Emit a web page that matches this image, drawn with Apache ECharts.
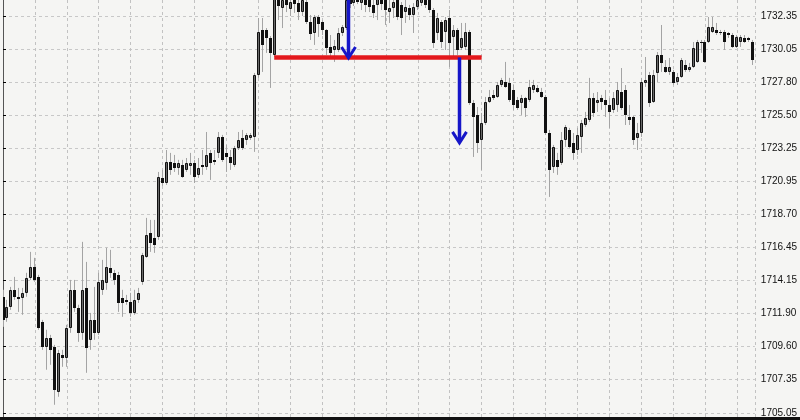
<!DOCTYPE html>
<html><head><meta charset="utf-8">
<script src="https://cdn.jsdelivr.net/npm/echarts@6/dist/echarts.min.js"></script>
<style>html,body{margin:0;padding:0;background:#f5f5f3}#c{width:800px;height:420px}</style>
</head><body><div id="c"></div>
<script>
const opens = [
1713.03,1711.58,1712.34,1713.51,1713.03,1712.96,1713.30,1714.33,1715.09,1714.40,
1711.31,1709.59,1710.21,1709.59,1706.49,1709.04,1708.83,1710.89,1713.51,1712.27,
1710.55,1713.64,1710.07,1711.44,1710.55,1713.51,1713.99,1715.02,1714.68,1714.54,
1712.96,1712.68,1712.68,1711.92,1712.82,1714.06,1715.78,1717.43,1717.08,1717.15,
1721.21,1720.86,1722.31,1722.24,1721.90,1722.10,1721.76,1722.03,1722.24,1721.42,
1721.97,1721.97,1722.93,1722.45,1722.93,1724.03,1722.93,1722.65,1722.10,1723.27,
1723.96,1723.82,1723.96,1724.03,1728.29,1731.39,1731.39,1730.84,1729.67,1733.73,
1732.90,1733.66,1732.83,1733.59,1733.24,1732.62,1733.31,1731.94,1731.18,1732.28,
1731.94,1731.39,1730.22,1730.01,1730.01,1731.18,1731.52,1733.66,1733.24,1733.79,
1733.24,1733.59,1733.45,1733.11,1733.11,1733.66,1733.45,1732.62,1732.90,1733.45,
1733.11,1732.62,1732.90,1732.42,1732.97,1733.24,1733.73,1733.45,1732.76,1731.18,
1731.94,1731.25,1732.21,1730.91,1731.39,1730.15,1730.22,1731.25,1726.37,1725.54,
1723.82,1724.99,1726.44,1726.92,1726.78,1727.60,1727.81,1727.74,1727.26,1726.57,
1726.37,1726.71,1726.57,1727.26,1727.40,1727.12,1726.78,1724.30,1721.97,1722.45,
1722.24,1723.82,1724.51,1723.62,1723.13,1724.03,1724.85,1725.20,1726.71,1726.37,
1726.71,1726.57,1726.23,1725.89,1726.23,1727.12,1727.26,1725.40,1725.40,1723.96,
1724.30,1727.74,1728.29,1726.44,1728.43,1729.67,1728.84,1728.50,1728.50,1727.81,
1728.15,1728.98,1728.64,1728.84,1729.19,1730.49,1730.56,1730.56,1731.25,1731.39,
1731.25,1731.25,1731.04,1731.04,1730.22,1730.56,1730.84,1730.70,1730.56];
const closes = [
1711.44,1712.34,1713.51,1713.03,1712.89,1713.30,1714.33,1715.09,1714.19,1710.89,
1709.59,1710.21,1709.38,1706.63,1709.17,1708.83,1710.89,1713.51,1712.27,1710.55,
1713.51,1709.52,1711.44,1710.55,1714.06,1714.19,1715.09,1714.68,1714.19,1712.61,
1712.61,1712.82,1711.92,1712.82,1713.30,1715.91,1717.29,1716.74,1716.60,1721.28,
1720.86,1722.31,1721.76,1721.90,1722.24,1721.28,1722.24,1722.24,1721.28,1721.90,
1722.10,1722.79,1722.24,1722.31,1724.03,1722.45,1722.65,1722.24,1723.27,1723.82,
1723.27,1724.17,1724.17,1728.29,1731.25,1730.36,1730.84,1729.81,1733.59,1733.04,
1733.45,1733.11,1733.31,1733.17,1732.62,1733.45,1731.94,1731.11,1732.28,1731.80,
1731.39,1730.15,1729.81,1730.29,1731.18,1731.59,1733.45,1733.17,1733.59,1733.31,
1733.73,1733.11,1732.97,1732.56,1733.59,1733.17,1732.76,1732.90,1733.31,1732.28,
1732.21,1732.97,1732.42,1732.97,1733.45,1733.59,1733.11,1732.76,1730.49,1732.21,
1730.56,1732.07,1730.49,1731.39,1730.01,1730.84,1731.25,1726.37,1725.40,1723.62,
1724.99,1726.44,1726.78,1726.71,1727.60,1727.95,1727.47,1726.57,1726.23,1726.02,
1726.71,1726.02,1727.47,1727.60,1727.12,1726.78,1724.30,1721.76,1723.34,1721.97,
1723.82,1724.72,1723.34,1722.93,1724.17,1724.99,1725.34,1726.71,1725.68,1726.57,
1726.44,1726.23,1725.75,1726.71,1727.26,1726.02,1725.54,1725.20,1723.82,1724.30,
1727.81,1727.95,1726.37,1728.29,1729.67,1729.12,1728.50,1728.84,1727.74,1728.15,
1729.32,1728.64,1728.84,1730.15,1730.56,1730.56,1729.19,1731.59,1731.59,1731.18,
1731.18,1730.56,1731.18,1730.22,1730.91,1730.91,1730.56,1730.84,1729.32];
const highs = [
1713.51,1712.82,1713.71,1714.40,1713.64,1713.64,1714.68,1716.12,1715.71,1714.54,
1711.44,1710.76,1710.41,1709.72,1709.38,1709.38,1711.10,1714.19,1714.19,1712.48,
1716.81,1715.43,1711.92,1713.71,1714.68,1715.57,1716.40,1716.26,1714.88,1714.74,
1713.51,1713.16,1713.30,1713.51,1713.64,1716.05,1718.46,1718.32,1718.32,1721.62,
1721.76,1723.13,1722.93,1722.79,1722.45,1722.45,1722.58,1722.93,1722.45,1722.58,
1723.13,1724.37,1723.13,1723.13,1724.37,1724.17,1723.48,1723.13,1723.41,1724.37,
1724.51,1724.30,1724.30,1728.43,1732.21,1732.21,1731.52,1730.97,1733.79,1734.14,
1733.86,1734.00,1733.79,1733.93,1733.66,1733.73,1733.59,1732.42,1732.42,1732.42,
1732.07,1731.45,1731.04,1730.70,1731.52,1731.73,1733.73,1733.86,1733.79,1734.14,
1734.00,1733.86,1733.73,1733.45,1733.73,1733.86,1733.73,1733.45,1733.59,1733.66,
1733.31,1733.45,1733.11,1733.24,1733.66,1733.79,1734.00,1733.66,1732.90,1732.56,
1732.07,1732.28,1732.76,1731.73,1731.52,1731.87,1731.87,1731.39,1726.57,1726.09,
1725.68,1726.78,1727.26,1727.26,1727.81,1728.09,1729.19,1728.09,1727.60,1726.78,
1726.92,1726.78,1727.95,1727.95,1727.60,1727.40,1726.92,1724.51,1723.48,1722.93,
1724.37,1724.85,1724.65,1724.30,1724.65,1725.20,1725.75,1728.09,1727.05,1727.12,
1726.92,1727.26,1726.71,1727.12,1727.81,1728.77,1727.60,1726.23,1725.47,1724.99,
1728.09,1729.53,1728.50,1728.64,1729.87,1731.73,1729.32,1729.46,1728.64,1728.43,
1729.46,1729.32,1729.12,1730.56,1730.70,1730.70,1730.70,1732.28,1732.28,1731.87,
1731.39,1731.39,1731.25,1731.18,1731.04,1731.04,1731.04,1730.91,1730.70];
const lows = [
1710.96,1711.31,1712.13,1712.82,1711.99,1711.79,1713.03,1714.19,1714.06,1710.76,
1709.38,1708.01,1708.35,1705.60,1706.15,1708.21,1708.21,1710.55,1711.99,1709.93,
1710.07,1707.80,1709.38,1710.07,1710.41,1713.16,1713.51,1714.33,1713.85,1711.99,
1711.65,1712.48,1711.65,1711.79,1712.61,1713.85,1715.71,1716.12,1716.05,1716.95,
1720.66,1720.73,1721.42,1721.62,1721.42,1721.21,1721.62,1721.42,1720.86,1721.21,
1721.42,1721.76,1721.07,1722.10,1722.58,1722.31,1721.62,1721.76,1721.97,1723.13,
1723.13,1723.48,1723.82,1723.00,1728.09,1728.50,1729.81,1727.40,1729.53,1732.07,
1731.52,1732.62,1732.35,1732.56,1732.07,1732.35,1731.80,1730.70,1730.36,1730.91,
1731.04,1729.67,1729.60,1729.19,1729.87,1730.97,1731.39,1732.90,1733.04,1733.17,
1732.76,1732.62,1732.62,1732.21,1732.07,1732.76,1731.73,1731.87,1732.21,1732.07,
1731.04,1731.87,1732.07,1731.18,1732.76,1733.04,1732.90,1732.56,1730.15,1730.70,
1730.15,1730.01,1728.84,1729.53,1729.67,1730.01,1730.01,1726.23,1722.65,1722.93,
1721.76,1724.85,1726.37,1726.57,1726.71,1727.47,1727.40,1726.44,1725.89,1725.89,
1725.54,1725.40,1726.44,1727.05,1727.05,1726.71,1724.17,1719.90,1721.55,1721.42,
1722.10,1723.34,1723.27,1722.45,1722.79,1722.93,1724.72,1725.06,1725.40,1725.75,
1725.89,1725.40,1724.65,1725.68,1725.75,1725.89,1724.85,1724.85,1723.48,1723.13,
1724.03,1727.47,1726.09,1726.37,1727.81,1728.50,1728.43,1728.29,1727.60,1727.60,
1728.09,1728.50,1728.50,1728.77,1729.12,1729.81,1729.12,1730.49,1731.18,1731.04,
1731.04,1730.01,1730.84,1730.15,1730.15,1730.22,1730.49,1730.56,1728.98];

const yTickValues = [1705.05,1707.35,1709.60,1711.90,1714.15,1716.45,1718.70,1720.95,1723.25,1725.50,1727.80,1730.05,1732.35];
const yTickLabels = ['1705.05','1707.35','1709.60','1711.90','1714.15','1716.45','1718.70','1720.95','1723.25','1725.50','1727.80','1730.05','1732.35'];

const supportLevel = 1729.50;
const supportStart = 68;
const supportEnd = 120;

const arrowX = [86.4, 114.25];
const arrowFrom = [1733.9, 1729.50];
const arrowTo = [1729.46, 1723.62];

const candleData = opens.map((o, i) => [i, o, closes[i], lows[i], highs[i]]);
const arrowData = arrowX.map((x, k) => [x, arrowFrom[k], arrowTo[k]]);

function renderCandle(params, api) {
  const i = api.value(0), o = api.value(1), c = api.value(2), l = api.value(3), h = api.value(4);
  const pO = api.coord([i, o]), pC = api.coord([i, c]);
  const pL = api.coord([i, l]), pH = api.coord([i, h]);
  const x0 = Math.floor(pO[0]);
  const top = Math.round(Math.min(pO[1], pC[1]));
  const bot = Math.round(Math.max(pO[1], pC[1]));
  const bh = Math.max(1, bot - top);
  const children = [{
    type: 'line',
    shape: {x1: x0 + 0.5, y1: pH[1], x2: x0 + 0.5, y2: pL[1]},
    style: {stroke: '#a4a4a4', lineWidth: 1}
  }];
  if (c >= o && bh > 2) {
    children.push({
      type: 'rect',
      shape: {x: x0 - 0.5, y: top + 0.5, width: 2, height: bh - 1},
      style: {fill: '#6a6a6a', stroke: '#111', lineWidth: 1}
    });
  } else {
    children.push({
      type: 'rect',
      shape: {x: x0 - 1, y: top, width: 3, height: bh},
      style: {fill: '#111'}
    });
  }
  return {type: 'group', children};
}

function renderArrow(params, api) {
  const x = api.value(0);
  const pF = api.coord([x, api.value(1)]);
  const pT = api.coord([x, api.value(2)]);
  const tx = Math.round(pT[0]) + 0.5, ty = pT[1];
  const color = '#1616c8';
  return {
    type: 'group',
    children: [
      {type: 'line', shape: {x1: tx, y1: pF[1], x2: tx, y2: ty - 2},
       style: {stroke: color, lineWidth: 3.5}},
      {type: 'polyline', shape: {points: [[tx - 7, ty - 11], [tx, ty], [tx + 7, ty - 11]]},
       style: {stroke: color, lineWidth: 3, fill: null, lineJoin: 'miter'}}
    ]
  };
}

const chart = echarts.init(document.getElementById('c'), null, {renderer: 'canvas'});
chart.setOption({
  backgroundColor: '#f5f5f3',
  animation: false,
  grid: {left: 3, right: 43, top: 0, bottom: 2, containLabel: false},
  xAxis: {
    type: 'value', min: 0, max: 188.5, interval: 8,
    axisLine: {show: false}, axisTick: {show: false}, axisLabel: {show: false},
    splitLine: {show: true, lineStyle: {color: '#c2c2c2', type: [3, 3], width: 1}}
  },
  yAxis: {
    type: 'value', position: 'right', min: 1704.69, max: 1733.45,
    axisLine: {show: true, lineStyle: {color: '#555', width: 1}},
    axisTick: {show: true, customValues: yTickValues, length: 3, lineStyle: {color: '#000'}},
    axisLabel: {
      show: true, customValues: yTickValues, margin: 6, color: '#111',
      fontSize: 10, fontFamily: 'Liberation Sans',
      formatter: function (v) {
        for (let k = 0; k < yTickValues.length; k++) {
          if (Math.abs(yTickValues[k] - v) < 0.001) return yTickLabels[k];
        }
        return '';
      }
    },
    splitLine: {show: true, lineStyle: {color: '#c8c8c8', type: [3, 3], width: 1}}
  },
  graphic: [{
    type: 'rect', left: 0, top: 417, z: 100,
    shape: {width: 800, height: 3}, style: {fill: '#111'}
  }],
  series: [
    {
      type: 'custom', name: 'XAUUSD', renderItem: renderCandle, data: candleData,
      encode: {x: 0, y: [1, 2, 3, 4]}, clip: true, z: 2, silent: true
    },
    {
      type: 'line', name: 'level', data: [[supportStart, supportLevel], [supportEnd, supportLevel]],
      showSymbol: false, symbol: 'none', silent: true, z: 3,
      lineStyle: {color: '#e3181c', width: 4.5}
    },
    {
      type: 'custom', name: 'arrows', renderItem: renderArrow, data: arrowData,
      encode: {x: 0, y: [1, 2]}, clip: false, z: 4, silent: true
    }
  ]
});
</script></body></html>
